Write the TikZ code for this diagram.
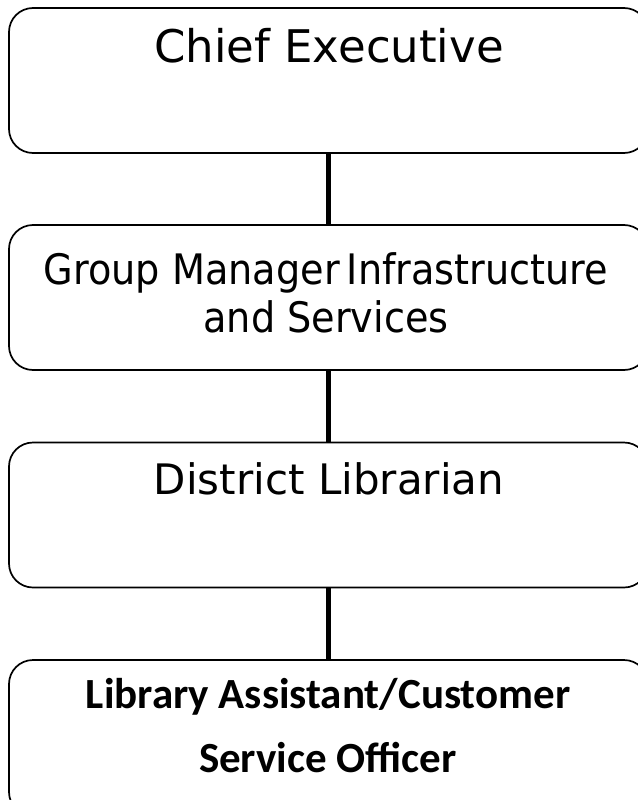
\documentclass[tikz,border=0pt]{standalone}
\usepackage{fontspec}
\setmainfont{DejaVu Sans}
\newfontfamily\grpfont[FakeStretch=0.91]{DejaVu Sans}
\newfontfamily\boldfont{Carlito}
\begin{document}
\begin{tikzpicture}[x=1pt,y=-1pt,
  orgbox/.style={draw=black, line width=1.7pt, rounded corners=24pt, minimum width=639pt, minimum height=145pt, inner sep=0pt},
  link/.style={draw=black, line width=5pt},
  lbl/.style={inner sep=0pt, align=center},
  blbl/.style={inner sep=0pt, align=center, font=\boldfont\bfseries\fontsize{43}{64}\selectfont}]
\useasboundingbox (0,0) rectangle (637,800);
\fill[white] (0,0) rectangle (637,800);
\node[orgbox] (b1) at (328.5,80.5) {};
\node[orgbox] (b2) at (328.5,297.5) {};
\node[orgbox] (b3) at (328.5,515) {};
\node[orgbox, minimum height=156pt] (b4) at (328.5,738) {};
\node[lbl, anchor=base, font=\fontsize{45}{50}\selectfont] (t1) at (329,63) {Chief Executive};
\node[lbl, anchor=base, font=\grpfont\fontsize{42}{48}\selectfont] (t2) at (326,332) {Group Manager\,Infrastructure\\and Services};
\node[lbl, anchor=base, font=\fontsize{42}{50}\selectfont] (t3) at (329,494) {District Librarian};
\node[blbl, anchor=base] (t4) at (328,772) {Library Assistant/Customer\\Service Officer};
\draw[link] (b1.south) -- (b2.north);
\draw[link] (b2.south) -- (b3.north);
\draw[link] (b3.south) -- (b4.north);
\end{tikzpicture}
\end{document}
